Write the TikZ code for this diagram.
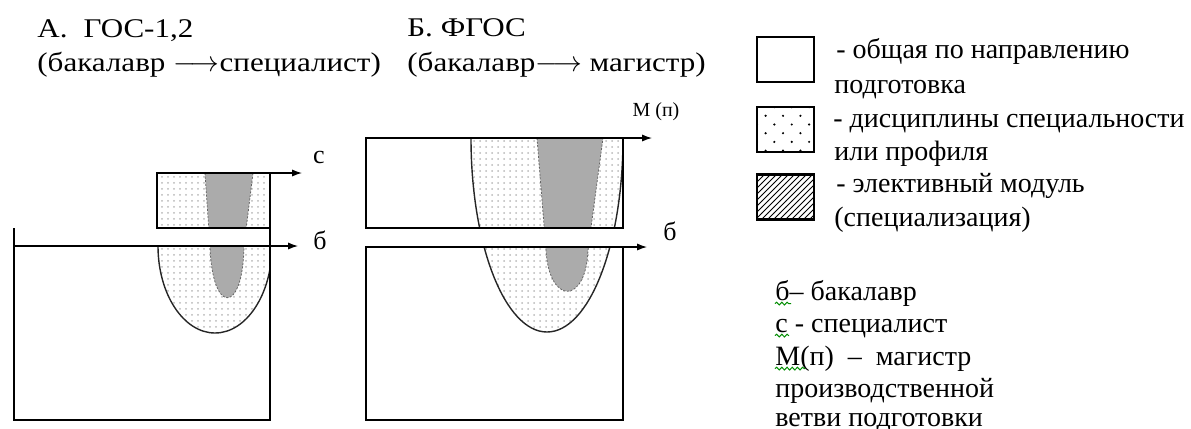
\documentclass[tikz,border=0pt]{standalone}
\usepackage{fontspec}
\setmainfont{Liberation Serif}
\newfontfamily\headfont[FakeStretch=1.15]{Liberation Serif}
\usepackage{tikz}
\usetikzlibrary{positioning,backgrounds,patterns,arrows.meta,decorations.pathmorphing}

% sparse staggered dots for the legend key
\pgfdeclarepatternformonly{sparse dots}{\pgfqpoint{-1pt}{-1pt}}{\pgfqpoint{9.7pt}{9.7pt}}{\pgfqpoint{8.7pt}{8.7pt}}{%
  \pgfpathcircle{\pgfqpoint{0pt}{0pt}}{0.6pt}%
  \pgfpathcircle{\pgfqpoint{4.35pt}{4.35pt}}{0.6pt}%
  \pgfusepath{fill}}

\begin{document}
\begin{tikzpicture}[
    x=0.5pt, y=-0.5pt,
    block/.style={rectangle, draw=black, line width=1.4pt, inner sep=0pt, outer sep=0pt},
    keybox/.style={block, line width=1.1pt, minimum width=28.5pt, minimum height=22.5pt},
    dotfill/.style={pattern=dots, pattern color=black!28},
    profile/.style={dotfill, draw=black!85, line width=0.7pt},
    elective/.style={fill=black!33, draw=black!60, line width=0.4pt, dash pattern=on 1pt off 0.8pt},
    flow/.style={->, >={Latex[length=5pt,width=3.6pt]}, line width=0.6pt},
    heading/.style={anchor=base west, inner sep=0pt, font=\headfont\fontsize{13.5}{17}\selectfont},
    keytext/.style={anchor=base west, inner sep=0pt, font=\fontsize{14}{17}\selectfont},
    axlbl/.style={inner sep=0pt, font=\fontsize{13}{15}\selectfont},
    squiggle/.style={draw=green!55!black, line width=0.5pt, decorate, decoration={snake, amplitude=0.7pt, segment length=2.6pt}},
]
\useasboundingbox (0,0) rectangle (1191,429);

% headings
\node[heading] (headA1) at (37,37) {А.\hspace{8pt}ГОС-1,2};
\node[heading] (headA2) at (37,71) {(бакалавр $\longrightarrow$специалист)};
\node[heading] (headB1) at (407,36) {Б. ФГОС};
\node[heading] (headB2) at (407,71) {(бакалавр$\longrightarrow$ магистр)};

% A: bachelor block with specialist block on top
\node[block, minimum width=128pt, minimum height=87pt] (loA) at (142,333) {};
\node[block, minimum width=56.5pt, minimum height=27.5pt] (upA) at (213.5,200.5) {};
\begin{scope}[on background layer]
  \begin{scope}
    \clip (upA.south west) rectangle (upA.north east);
    \fill[dotfill] (upA.south west) rectangle (upA.north east);
    \draw[elective] (205,173) -- (210,246) .. controls (212,315) and (243,315) .. (244,246) -- (253,173) -- cycle;
  \end{scope}
  \begin{scope}
    \clip (loA.south west) rectangle (loA.north east);
    \draw[profile] (215,246) ellipse [x radius=28.5pt, y radius=43.5pt];
    \draw[elective] (205,173) -- (210,246) .. controls (212,315) and (243,315) .. (244,246) -- (253,173) -- cycle;
  \end{scope}
\end{scope}
\coordinate (cTipA) at (302,173);
\coordinate (bTipA) at (298,246);
\draw[flow] (upA.north east) -- (cTipA);
\draw[flow] ([yshift=9pt]loA.north west) -- (loA.north west) -- (bTipA);
\draw[line width=0.6pt] (upA.south east) -- (loA.north east);
\node[axlbl] (cLblA) at (319,157) {с};
\node[axlbl] (bLblA) at (320,240) {б};

% B: bachelor block with master block on top
\node[block, minimum width=128.5pt, minimum height=45pt] (upB) at (494.5,183) {};
\node[block, minimum width=128.5pt, minimum height=86.5pt] (loB) at (494.5,333.5) {};
\begin{scope}[on background layer]
  \begin{scope}
    \clip (upB.south west) rectangle (upB.north east);
    \draw[profile] (547,138) ellipse [x radius=38pt, y radius=97pt];
    \draw[elective] (537,138) -- (546,250) .. controls (549,305) and (586,305) .. (588,250) -- (603,138) -- cycle;
  \end{scope}
  \begin{scope}
    \clip (loB.south west) rectangle (loB.north east);
    \draw[profile] (547,138) ellipse [x radius=38pt, y radius=97pt];
    \draw[elective] (537,138) -- (546,250) .. controls (549,305) and (586,305) .. (588,250) -- (603,138) -- cycle;
  \end{scope}
\end{scope}
\coordinate (mTipB) at (652,138);
\coordinate (bTipB) at (647,247);
\draw[flow] (upB.north east) -- (mTipB);
\draw[flow] (loB.north west) -- (bTipB);
\node[axlbl, font=\fontsize{10}{12}\selectfont] (mLblB) at (656,112) {М (п)};
\node[axlbl] (bLblB) at (670,231) {б};

% legend
\node[keybox] (key1) at (785.5,59.5) {};
\node[keybox, pattern=sparse dots] (key2) at (785.5,129.5) {};
\node[keybox, pattern=north east lines] (key3) at (785.5,197) {};
\node[keytext] (key1a) at (836,58) {- общая по направлению};
\node[keytext] (key1b) at (834,93) {подготовка};
\node[keytext] (key2a) at (833,127) {- дисциплины специальности};
\node[keytext] (key2b) at (834,160) {или профиля};
\node[keytext] (key3a) at (836,192) {- элективный модуль};
\node[keytext] (key3b) at (834,226) {(специализация)};

% notes on the letters
\node[keytext] (note1) at (775,300) {б– бакалавр};
\node[keytext] (note2) at (775,332) {с - специалист};
\node[keytext] (note3) at (775,365) {М(п)\ \ –\ \ магистр};
\node[keytext] (note4) at (775,397) {производственной};
\node[keytext] (note5) at (775,426) {ветви подготовки};
\draw[squiggle] ([yshift=-1.8pt]note1.base west) -- ++(16,0);
\draw[squiggle] ([yshift=-1.8pt]note2.base west) -- ++(14,0);
\draw[squiggle] ([yshift=-1.8pt]note3.base west) -- ++(30,0);
\end{tikzpicture}
\end{document}
